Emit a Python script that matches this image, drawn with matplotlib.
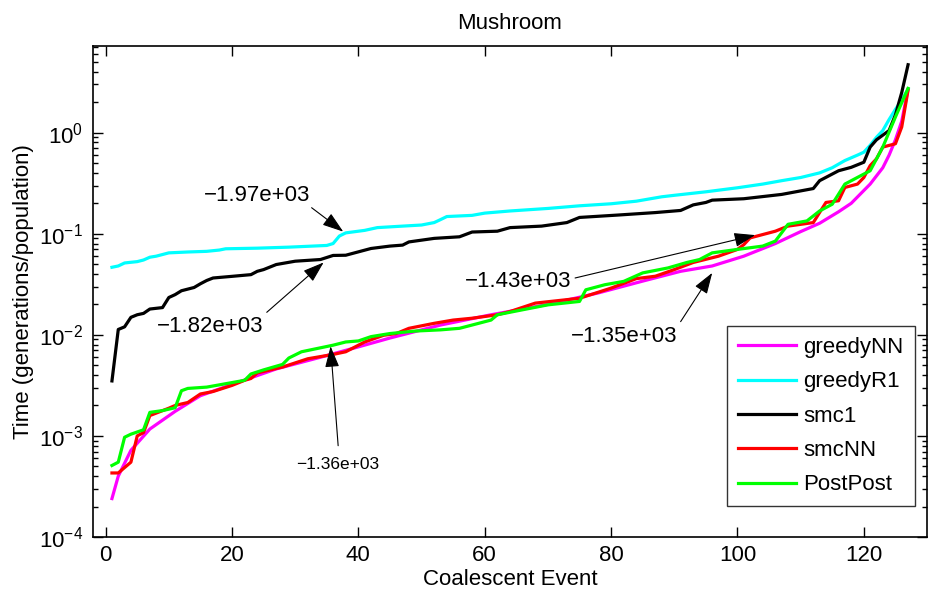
import matplotlib
matplotlib.use('Agg')
import matplotlib.pyplot as plt

plt.rcParams['font.family'] = ['Liberation Sans', 'DejaVu Sans']
plt.rcParams['mathtext.fontset'] = 'custom'
plt.rcParams['mathtext.rm'] = 'Liberation Sans'
plt.rcParams['mathtext.it'] = 'Liberation Sans'
plt.rcParams['mathtext.bf'] = 'Liberation Sans'

# greedyNN (smooth)
gnn_x = [1, 2, 4, 7, 11, 15, 21, 27, 34, 40, 45, 53, 61, 70, 78, 85, 91, 96,
         101, 106, 110, 113, 116, 118, 121, 123, 124, 125, 126, 127]
gnn_y = [0.00024, 0.0004, 0.00072, 0.00117, 0.00175, 0.0025, 0.0034, 0.0046,
         0.006, 0.0076, 0.0093, 0.0125, 0.0158, 0.020, 0.026, 0.034, 0.0425,
         0.048, 0.060, 0.080, 0.105, 0.127, 0.165, 0.20, 0.31, 0.45, 0.60,
         0.85, 1.3, 2.7]

# greedyR1
gr1_x = [1, 2, 3, 5, 6, 7, 8, 10, 13, 16, 18, 19, 24, 29, 35, 36, 37, 38, 41,
         43, 47, 50, 52, 53, 54, 58, 60, 64, 70, 75, 80, 84, 88, 90, 95, 100,
         104, 107, 110, 113, 115, 117, 119, 120, 121, 122, 123, 124, 125, 126, 127]
gr1_y = [0.0466, 0.048, 0.0514, 0.053, 0.055, 0.0586, 0.060, 0.0647, 0.066,
         0.067, 0.069, 0.071, 0.072, 0.0737, 0.0766, 0.08, 0.095, 0.102, 0.108,
         0.115, 0.119, 0.122, 0.129, 0.138, 0.148, 0.152, 0.160, 0.168, 0.178,
         0.189, 0.198, 0.210, 0.232, 0.240, 0.260, 0.285, 0.31, 0.335, 0.36,
         0.40, 0.45, 0.53, 0.60, 0.641, 0.75, 0.90, 1.05, 1.35, 1.7, 2.1, 2.7]

# smc1
smc1_x = [1, 2, 3, 4, 5, 6, 7, 9, 10, 11, 12, 14, 15, 16, 17, 20, 23, 24, 25,
          27, 30, 34, 36, 38, 40, 42, 45, 47, 48, 52, 56, 58, 62, 64, 69, 73,
          75, 81, 87, 91, 93, 95, 96, 101, 107, 112, 113, 116, 118, 120, 121,
          122, 124, 125, 126, 127]
smc1_y = [0.0035, 0.0113, 0.012, 0.0149, 0.0158, 0.0163, 0.018, 0.0186, 0.0234,
          0.025, 0.0273, 0.0294, 0.032, 0.0345, 0.0365, 0.0379, 0.0394, 0.0425,
          0.0442, 0.0496, 0.0535, 0.0556, 0.061, 0.0613, 0.0662, 0.0715, 0.0755,
          0.0772, 0.083, 0.090, 0.0933, 0.104, 0.106, 0.115, 0.119, 0.129,
          0.145, 0.153, 0.162, 0.170, 0.193, 0.204, 0.215, 0.222, 0.245, 0.28,
          0.335, 0.42, 0.454, 0.51, 0.72, 0.85, 1.05, 1.5, 2.5, 4.7]

# smcNN
snn_x = [1, 2, 4, 5, 6, 7, 10, 11, 12, 13, 15, 17, 20, 22, 23, 24, 28, 32, 36,
         38, 41, 44, 46, 48, 52, 55, 58, 62, 64, 68, 75, 80, 84, 87, 90, 93,
         97, 100, 101, 102, 106, 108, 112, 114, 116, 117, 119, 120, 121, 122,
         123, 125, 126, 127]
snn_y = [0.00043, 0.00043, 0.00055, 0.001, 0.00108, 0.00159, 0.00188, 0.002,
         0.00207, 0.00214, 0.0026, 0.00275, 0.00316, 0.00355, 0.0037, 0.0042,
         0.0048, 0.0058, 0.0064, 0.0068, 0.0085, 0.0099, 0.0103, 0.0116, 0.013,
         0.014, 0.0146, 0.0158, 0.017, 0.0206, 0.023, 0.029, 0.036, 0.038,
         0.0442, 0.052, 0.060, 0.070, 0.078, 0.091, 0.106, 0.119, 0.129, 0.204,
         0.212, 0.287, 0.31, 0.36, 0.472, 0.55, 0.72, 0.777, 1.14, 2.64]

# PostPost
pp_x = [1, 2, 3, 4, 6, 7, 9, 11, 12, 13, 16, 18, 22, 23, 25, 28, 29, 31, 36,
        38, 40, 42, 45, 49, 53, 56, 58, 61, 62, 66, 70, 75, 76, 79, 82, 85, 89,
        92, 94, 96, 100, 104, 106, 108, 111, 113, 115, 117, 119, 121, 122, 123,
        125, 127]
pp_y = [0.00051, 0.00055, 0.00097, 0.00104, 0.00115, 0.00171, 0.00178, 0.0019,
        0.0028, 0.00295, 0.00304, 0.0032, 0.00355, 0.0041, 0.0045, 0.0051,
        0.0059, 0.0068, 0.0079, 0.0085, 0.0087, 0.0096, 0.0103, 0.0109, 0.0112,
        0.0116, 0.0125, 0.014, 0.0158, 0.0177, 0.0198, 0.0214, 0.0279, 0.0313,
        0.0338, 0.041, 0.0459, 0.052, 0.0556, 0.0647, 0.070, 0.0755, 0.0846,
        0.124, 0.134, 0.168, 0.196, 0.31, 0.361, 0.42, 0.55, 0.72, 1.43, 2.74]

# annotations: label, text position, arrow tail, arrow head, font size
notes = [
    ('\u22121.97e+03', (23.9, 0.237), (32.6, 0.181), (37.6, 0.105), 16),
    ('\u22121.82e+03', (16.5, 0.0121), (25.5, 0.0167), (34.5, 0.052), 16),
    ('\u22121.36e+03', (36.8, 0.00052), (36.8, 0.0008), (35.6, 0.0077), 12.5),
    ('\u22121.43e+03', (65.3, 0.0338), (74.3, 0.0365), (102.8, 0.097), 16),
    ('\u22121.35e+03', (82.1, 0.0096), (91.0, 0.0135), (96.0, 0.041), 16),
]

fig = plt.figure(figsize=(9.3, 5.99), dpi=100)
ax = fig.add_axes([0.1, 0.1035, 0.8968, 0.8197])

lw = 2.3
ax.plot(gnn_x, gnn_y, color='#ff00ff', lw=lw, label='greedyNN')
ax.plot(gr1_x, gr1_y, color='#00ffff', lw=lw, label='greedyR1')
ax.plot(smc1_x, smc1_y, color='black', lw=lw, label='smc1')
ax.plot(snn_x, snn_y, color='#ff0000', lw=lw, label='smcNN')
ax.plot(pp_x, pp_y, color='#00ff00', lw=lw, label='PostPost')

ax.set_yscale('log')
ax.set_xlim(-2, 130)
ax.set_ylim(1e-4, 7.2)
ax.set_xticks([0, 20, 40, 60, 80, 100, 120])

for txt, tpos, tail, head, fs in notes:
    ax.annotate('', xy=head, xytext=tail,
                arrowprops=dict(arrowstyle='-|>,head_length=0.65,head_width=0.22',
                                color='black', lw=0.8, shrinkA=0, shrinkB=0,
                                mutation_scale=20))
    ax.text(tpos[0], tpos[1], txt, fontsize=fs, ha='center', va='center')

ax.tick_params(which='both', direction='in', top=True, right=True,
               labelsize=16, width=1.0)
ax.tick_params(which='major', length=7)
ax.tick_params(which='minor', length=3.5)
ax.tick_params(axis='x', pad=6)
ax.tick_params(axis='y', pad=7)
for s in ax.spines.values():
    s.set_linewidth(1.2)

ax.set_title('Mushroom', fontsize=16, pad=12)
ax.set_xlabel('Coalescent Event', fontsize=16, labelpad=2)
ax.set_ylabel('Time (generations/population)', fontsize=16, labelpad=4)

leg = ax.legend(loc='upper left', bbox_to_anchor=(0.76, 0.43), fontsize=16,
                frameon=True, fancybox=False, edgecolor='black',
                handlelength=2.6, handletextpad=0.35, labelspacing=0.6,
                borderpad=0.5, borderaxespad=0)
leg.get_frame().set_linewidth(1.0)

fig.savefig('out.png', dpi=100)
